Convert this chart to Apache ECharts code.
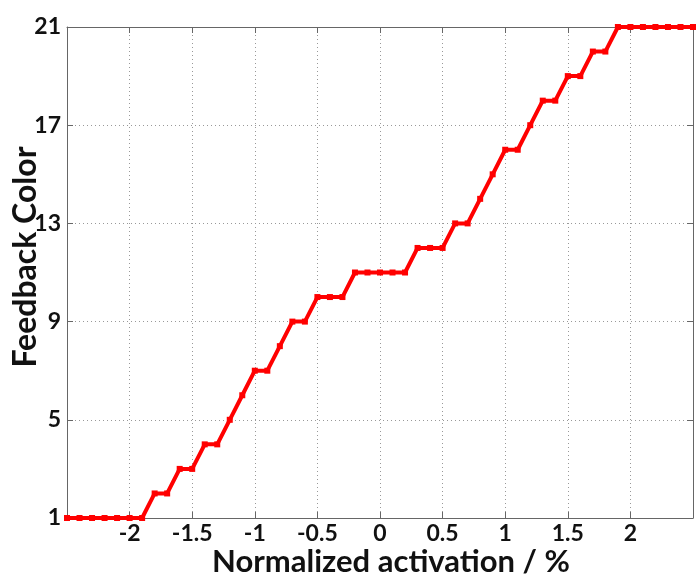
<!DOCTYPE html>
<html><head><meta charset="utf-8">
<script src="https://cdn.jsdelivr.net/npm/echarts@6/dist/echarts.min.js"></script>
<style>html,body{margin:0;padding:0;background:#fff}#c{width:698px;height:586px}</style>
</head><body><div id="c"></div>
<script>
const xValues = [-2.5,-2.4,-2.3,-2.2,-2.1,-2.0,-1.9,-1.8,-1.7,-1.6,-1.5,-1.4,-1.3,-1.2,-1.1,-1.0,-0.9,-0.8,-0.7,-0.6,-0.5,-0.4,-0.3,-0.2,-0.1,0.0,0.1,0.2,0.3,0.4,0.5,0.6,0.7,0.8,0.9,1.0,1.1,1.2,1.3,1.4,1.5,1.6,1.7,1.8,1.9,2.0,2.1,2.2,2.3,2.4,2.5];
const yValues = [1,1,1,1,1,1,1,2,2,3,3,4,4,5,6,7,7,8,9,9,10,10,10,11,11,11,11,11,12,12,12,13,13,14,15,16,16,17,18,18,19,19,20,20,21,21,21,21,21,21,21];
const xTitle = 'Normalized activation / %';
const yTitle = 'Feedback Color';

const font = 'Lato, "Open Sans", sans-serif';
const chart = echarts.init(document.getElementById('c'));
const gridLine = {show:true, lineStyle:{type:[1,3], color:'#999', width:1}};
const axisLine = {show:true, onZero:false, lineStyle:{color:'#666', width:1}};
const tick = {show:true, inside:true, length:6, lineStyle:{color:'#666'}};
const fmtX = v => (Math.abs(v) > 2.4 ? '' : String(Math.round(v*10)/10));
chart.setOption({
  animation:false,
  grid:{left:67, right:5, top:27, bottom:68, containLabel:false, outerBoundsMode:'none'},
  graphic:[
    {type:'text', x:391, y:562, silent:true,
     style:{text:xTitle, fill:'#111', font:'bold 31px Lato, "Open Sans", sans-serif', textAlign:'center', textVerticalAlign:'middle'}},
    {type:'text', x:26, y:257, rotation:Math.PI/2, silent:true,
     style:{text:yTitle, fill:'#111', font:'bold 32px Lato, "Open Sans", sans-serif', textAlign:'center', textVerticalAlign:'middle'}}
  ],
  xAxis:[{
    type:'value', min:-2.5, max:2.5, interval:0.5,
    axisLine:axisLine, axisTick:tick, splitLine:gridLine,
    axisLabel:{formatter:fmtX, color:'#111', fontFamily:font, fontWeight:'bold', fontSize:23, margin:4}
  },{
    type:'value', position:'top', min:-2.5, max:2.5, interval:0.5,
    axisLine:axisLine, axisTick:tick, splitLine:{show:false}, axisLabel:{show:false}
  }],
  yAxis:[{
    type:'value', min:1, max:21, interval:4,
    axisLine:axisLine, axisTick:tick, splitLine:gridLine,
    axisLabel:{color:'#111', fontFamily:font, fontWeight:'bold', fontSize:23, margin:6}
  },{
    type:'value', position:'right', min:1, max:21, interval:4,
    axisLine:axisLine, axisTick:tick, splitLine:{show:false}, axisLabel:{show:false}
  }],
  series:[{
    type:'line', data:xValues.map((x,i)=>[x,yValues[i]]),
    lineStyle:{color:'#ff0000', width:4}, itemStyle:{color:'#ff0000'},
    symbol:'rect', symbolSize:6, showAllSymbol:true, clip:false
  }]
});
</script></body></html>
